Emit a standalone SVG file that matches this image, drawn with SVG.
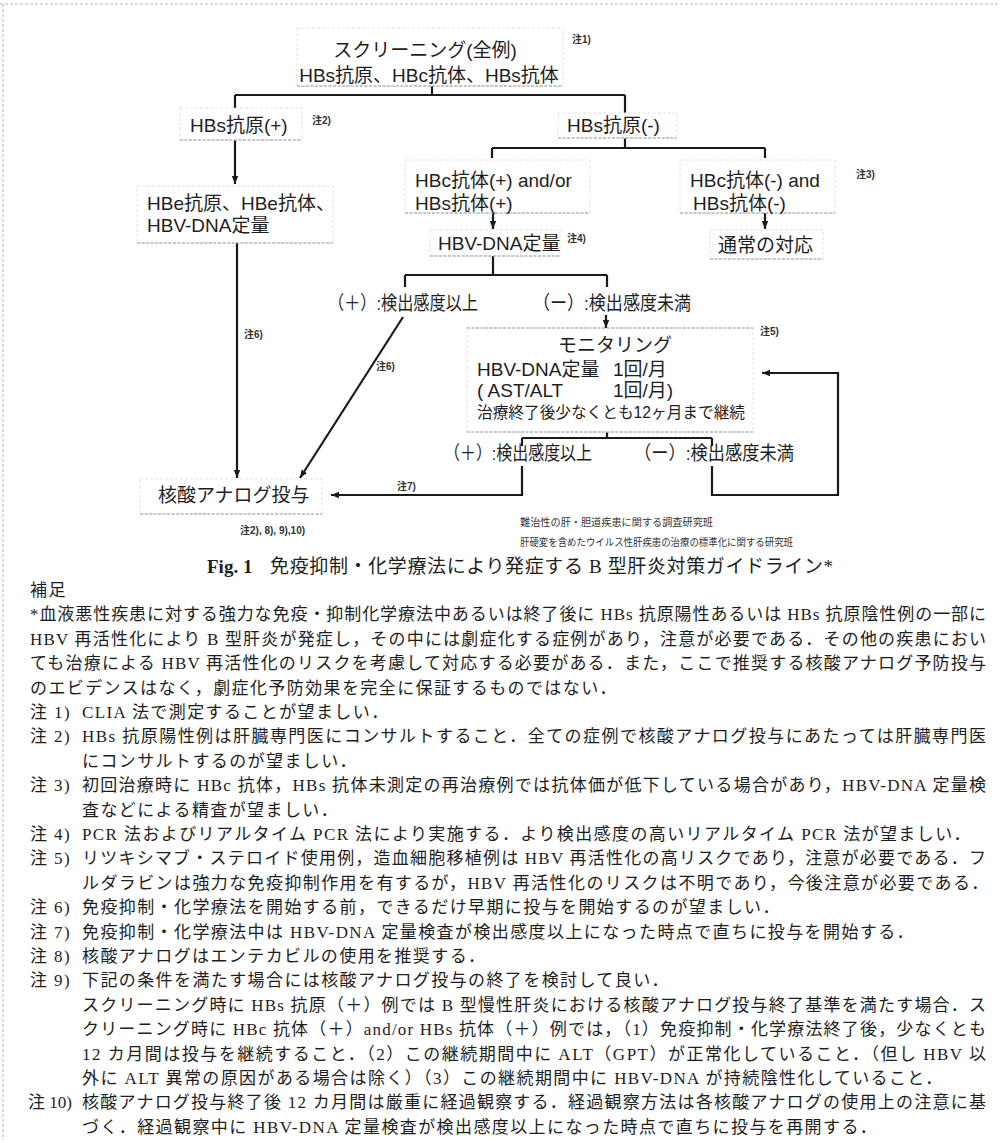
<svg xmlns="http://www.w3.org/2000/svg" width="1000" height="1146" viewBox="0 0 1000 1146">
<defs>
<marker id="ah" viewBox="0 0 10 10" refX="10" refY="5" markerUnits="userSpaceOnUse" markerWidth="8" markerHeight="8" orient="auto">
<path d="M0,1 L10,5 L0,9 z" fill="#1a1a1a"/>
</marker>
</defs>
<style>
.d{font-family:"Liberation Sans","Noto Sans CJK JP",sans-serif;font-size:19px;fill:#1e1e1e}
.m{font-family:"Liberation Sans","Noto Sans CJK JP",sans-serif;font-size:16px;fill:#1e1e1e}
.n{font-family:"Liberation Sans","Noto Sans CJK JP",sans-serif;font-size:10px;font-weight:bold;fill:#333}
.s{font-family:"Liberation Sans","Noto Sans CJK JP",sans-serif;font-size:10px;fill:#333}
.f{font-family:"Liberation Serif","Noto Sans CJK JP",serif;font-size:17px;letter-spacing:1.4px;fill:#1e1e1e}
.j{font-family:"Liberation Serif","Noto Sans CJK JP",serif;font-size:17px;fill:#1e1e1e}
.cap{font-family:"Liberation Serif","Noto Sans CJK JP",serif;font-size:19px;fill:#1e1e1e}
.bx{fill:none;stroke:#e2e2e2;stroke-width:1;stroke-dasharray:3 2}
.bl{fill:none;stroke:#9a9a9a;stroke-width:1.2;stroke-dasharray:3 1.5}
.c{fill:none;stroke:#1a1a1a;stroke-width:2.2}
.frame{fill:none;stroke:#b5b5b5;stroke-width:1;stroke-dasharray:3 2}
</style>
<rect width="1000" height="1146" fill="#ffffff"/>
<line class="frame" x1="0" y1="4" x2="1000" y2="4"/>
<line class="frame" x1="3" y1="4" x2="3" y2="1140"/>

<g id="connectors">
<path class="c" d="M432,86 V95 M235,95 H625 M235,95 V108 M625,95 V113"/>
<path class="c" d="M235,140 V184" marker-end="url(#ah)"/>
<path class="c" d="M625,138 V148 M492,148 H765 M492,148 V158 M765,148 V158"/>
<path class="c" d="M493,213 V229" marker-end="url(#ah)"/>
<path class="c" d="M765,213 V229" marker-end="url(#ah)"/>
<path class="c" d="M493,256 V275 M405,275 H607 M405,275 V287 M607,275 V287"/>
<path class="c" d="M606,315 V328" marker-end="url(#ah)"/>
<path class="c" d="M237,243 V478" marker-end="url(#ah)"/>
<path class="c" d="M403,317 L300,478" marker-end="url(#ah)"/>
<path class="c" d="M607,432 V438 M522,438 H712 M522,438 V446 M712,438 V446"/>
<path class="c" d="M522,466 V495 H331" marker-end="url(#ah)"/>
<path class="c" d="M712,466 V495 H838 V373 H762" marker-end="url(#ah)"/>
</g>

<g id="screening">
<rect class="bx" x="297" y="28" width="266" height="58"/>
<line class="bl" x1="297" y1="86" x2="563" y2="86"/>
<text class="d" x="425" y="57" text-anchor="middle">スクリーニング(全例)</text>
<text class="d" x="429" y="82" text-anchor="middle">HBs抗原、HBc抗体、HBs抗体</text>
<text class="n" x="572" y="43">注1)</text>
</g>

<g id="hbs-pos">
<rect class="bx" x="180" y="108" width="122" height="32"/>
<line class="bl" x1="180" y1="140" x2="302" y2="140"/>
<text class="d" x="190" y="132">HBs抗原(+)</text>
<text class="n" x="312" y="124">注2)</text>
</g>

<g id="hbs-neg">
<rect class="bx" x="558" y="113" width="119" height="25"/>
<line class="bl" x1="558" y1="138" x2="677" y2="138"/>
<text class="d" x="567" y="132">HBs抗原(-)</text>
</g>

<g id="hbe">
<rect class="bx" x="137" y="186" width="196" height="57"/>
<line class="bl" x1="137" y1="243" x2="333" y2="243"/>
<text class="d" x="147" y="210">HBe抗原、HBe抗体、</text>
<text class="d" x="147" y="232">HBV-DNA定量</text>
</g>

<g id="hbc-pos">
<rect class="bx" x="405" y="160" width="185" height="53"/>
<line class="bl" x1="405" y1="213" x2="590" y2="213"/>
<text class="d" x="415" y="187">HBc抗体(+) and/or</text>
<text class="d" x="415" y="210">HBs抗体(+)</text>
</g>

<g id="hbc-neg">
<rect class="bx" x="680" y="160" width="155" height="53"/>
<line class="bl" x1="680" y1="213" x2="835" y2="213"/>
<text class="d" x="690" y="187">HBc抗体(-) and</text>
<text class="d" x="693" y="210">HBs抗体(-)</text>
<text class="n" x="856" y="178">注3)</text>
</g>

<g id="hbv-dna">
<rect class="bx" x="430" y="230" width="130" height="26"/>
<line class="bl" x1="430" y1="256" x2="560" y2="256"/>
<text class="d" x="438" y="250">HBV-DNA定量</text>
<text class="n" x="567" y="242">注4)</text>
</g>

<g id="normal">
<rect class="bx" x="710" y="230" width="113" height="29"/>
<line class="bl" x1="710" y1="259" x2="823" y2="259"/>
<text class="d" x="718" y="252">通常の対応</text>
</g>

<g id="labels-upper">
<text class="d" x="403" y="310" text-anchor="middle" textLength="150" lengthAdjust="spacingAndGlyphs">（＋）:検出感度以上</text>
<text class="d" x="612" y="310" text-anchor="middle" textLength="158" lengthAdjust="spacingAndGlyphs">（ー）:検出感度未満</text>
<text class="n" x="244" y="338">注6)</text>
<text class="n" x="376" y="370">注6)</text>
</g>

<g id="monitoring">
<rect class="bx" x="467" y="328" width="286" height="104"/>
<line class="bl" x1="467" y1="328" x2="753" y2="328"/>
<line class="bl" x1="467" y1="432" x2="753" y2="432"/>
<text class="n" x="760" y="335">注5)</text>
<text class="d" x="615" y="352" text-anchor="middle">モニタリング</text>
<text class="d" x="477" y="376">HBV-DNA定量</text>
<text class="d" x="613" y="376">1回/月</text>
<text class="d" x="477" y="397">( AST/ALT</text>
<text class="d" x="613" y="397">1回/月)</text>
<text class="m" x="477" y="418" textLength="268" lengthAdjust="spacingAndGlyphs">治療終了後少なくとも12ヶ月まで継続</text>
</g>

<g id="labels-lower">
<text class="d" x="518" y="460" text-anchor="middle" textLength="148" lengthAdjust="spacingAndGlyphs">（＋）:検出感度以上</text>
<text class="d" x="714" y="460" text-anchor="middle" textLength="160" lengthAdjust="spacingAndGlyphs">（ー）:検出感度未満</text>
<text class="n" x="397" y="490">注7)</text>
</g>

<g id="nucleic">
<rect class="bx" x="140" y="479" width="182" height="35"/>
<line class="bl" x1="140" y1="514" x2="322" y2="514"/>
<text class="d" x="158" y="502">核酸アナログ投与</text>
<text class="n" x="240" y="534">注2), 8), 9),10)</text>
</g>

<g id="credits">
<text class="s" x="520" y="526" textLength="193" lengthAdjust="spacingAndGlyphs">難治性の肝・胆道疾患に関する調査研究班</text>
<text class="s" x="520" y="546" textLength="273" lengthAdjust="spacingAndGlyphs">肝硬変を含めたウイルス性肝疾患の治療の標準化に関する研究班</text>
</g>

<g id="caption">
<text class="cap" x="207" y="573" font-weight="bold">Fig. 1</text>
<text class="cap" x="270" y="573" textLength="563" lengthAdjust="spacing">免疫抑制・化学療法により発症する B 型肝炎対策ガイドライン*</text>
</g>

<g id="footnotes">
<text class="f" x="30" y="596">補足</text>
<text class="j" x="30" y="620" textLength="956" lengthAdjust="spacing">*血液悪性疾患に対する強力な免疫・抑制化学療法中あるいは終了後に HBs 抗原陽性あるいは HBs 抗原陰性例の一部に</text>
<text class="j" x="30" y="645" textLength="956" lengthAdjust="spacing">HBV 再活性化により B 型肝炎が発症し，その中には劇症化する症例があり，注意が必要である．その他の疾患におい</text>
<text class="j" x="30" y="669" textLength="956" lengthAdjust="spacing">ても治療による HBV 再活性化のリスクを考慮して対応する必要がある．また，ここで推奨する核酸アナログ予防投与</text>
<text class="f" x="30" y="694">のエビデンスはなく，劇症化予防効果を完全に保証するものではない．</text>
<text class="f" x="30" y="718">注 1)</text>
<text class="f" x="82" y="718">CLIA 法で測定することが望ましい．</text>
<text class="f" x="30" y="742">注 2)</text>
<text class="j" x="82" y="742" textLength="904" lengthAdjust="spacing">HBs 抗原陽性例は肝臓専門医にコンサルトすること．全ての症例で核酸アナログ投与にあたっては肝臓専門医</text>
<text class="f" x="82" y="767">にコンサルトするのが望ましい．</text>
<text class="f" x="30" y="791">注 3)</text>
<text class="j" x="82" y="791" textLength="904" lengthAdjust="spacing">初回治療時に HBc 抗体，HBs 抗体未測定の再治療例では抗体価が低下している場合があり，HBV-DNA 定量検</text>
<text class="f" x="82" y="816">査などによる精査が望ましい．</text>
<text class="f" x="30" y="840">注 4)</text>
<text class="f" x="82" y="840">PCR 法およびリアルタイム PCR 法により実施する．より検出感度の高いリアルタイム PCR 法が望ましい．</text>
<text class="f" x="30" y="864">注 5)</text>
<text class="j" x="82" y="864" textLength="904" lengthAdjust="spacing">リツキシマブ・ステロイド使用例，造血細胞移植例は HBV 再活性化の高リスクであり，注意が必要である．フ</text>
<text class="f" x="82" y="889">ルダラビンは強力な免疫抑制作用を有するが，HBV 再活性化のリスクは不明であり，今後注意が必要である．</text>
<text class="f" x="30" y="913">注 6)</text>
<text class="f" x="82" y="913">免疫抑制・化学療法を開始する前，できるだけ早期に投与を開始するのが望ましい．</text>
<text class="f" x="30" y="938">注 7)</text>
<text class="f" x="82" y="938">免疫抑制・化学療法中は HBV-DNA 定量検査が検出感度以上になった時点で直ちに投与を開始する．</text>
<text class="f" x="30" y="962">注 8)</text>
<text class="f" x="82" y="962">核酸アナログはエンテカビルの使用を推奨する．</text>
<text class="f" x="30" y="986">注 9)</text>
<text class="f" x="82" y="986">下記の条件を満たす場合には核酸アナログ投与の終了を検討して良い．</text>
<text class="j" x="82" y="1011" textLength="904" lengthAdjust="spacing">スクリーニング時に HBs 抗原（＋）例では B 型慢性肝炎における核酸アナログ投与終了基準を満たす場合．ス</text>
<text class="j" x="82" y="1035" textLength="904" lengthAdjust="spacing">クリーニング時に HBc 抗体（＋）and/or HBs 抗体（＋）例では，（1）免疫抑制・化学療法終了後，少なくとも</text>
<text class="j" x="82" y="1060" textLength="904" lengthAdjust="spacing">12 カ月間は投与を継続すること．（2）この継続期間中に ALT（GPT）が正常化していること．（但し HBV 以</text>
<text class="f" x="82" y="1084">外に ALT 異常の原因がある場合は除く）（3）この継続期間中に HBV-DNA が持続陰性化していること．</text>
<text class="j" x="28" y="1108">注 10)</text>
<text class="j" x="82" y="1108" textLength="904" lengthAdjust="spacing">核酸アナログ投与終了後 12 カ月間は厳重に経過観察する．経過観察方法は各核酸アナログの使用上の注意に基</text>
<text class="f" x="82" y="1133">づく．経過観察中に HBV-DNA 定量検査が検出感度以上になった時点で直ちに投与を再開する．</text>
</g>
</svg>
